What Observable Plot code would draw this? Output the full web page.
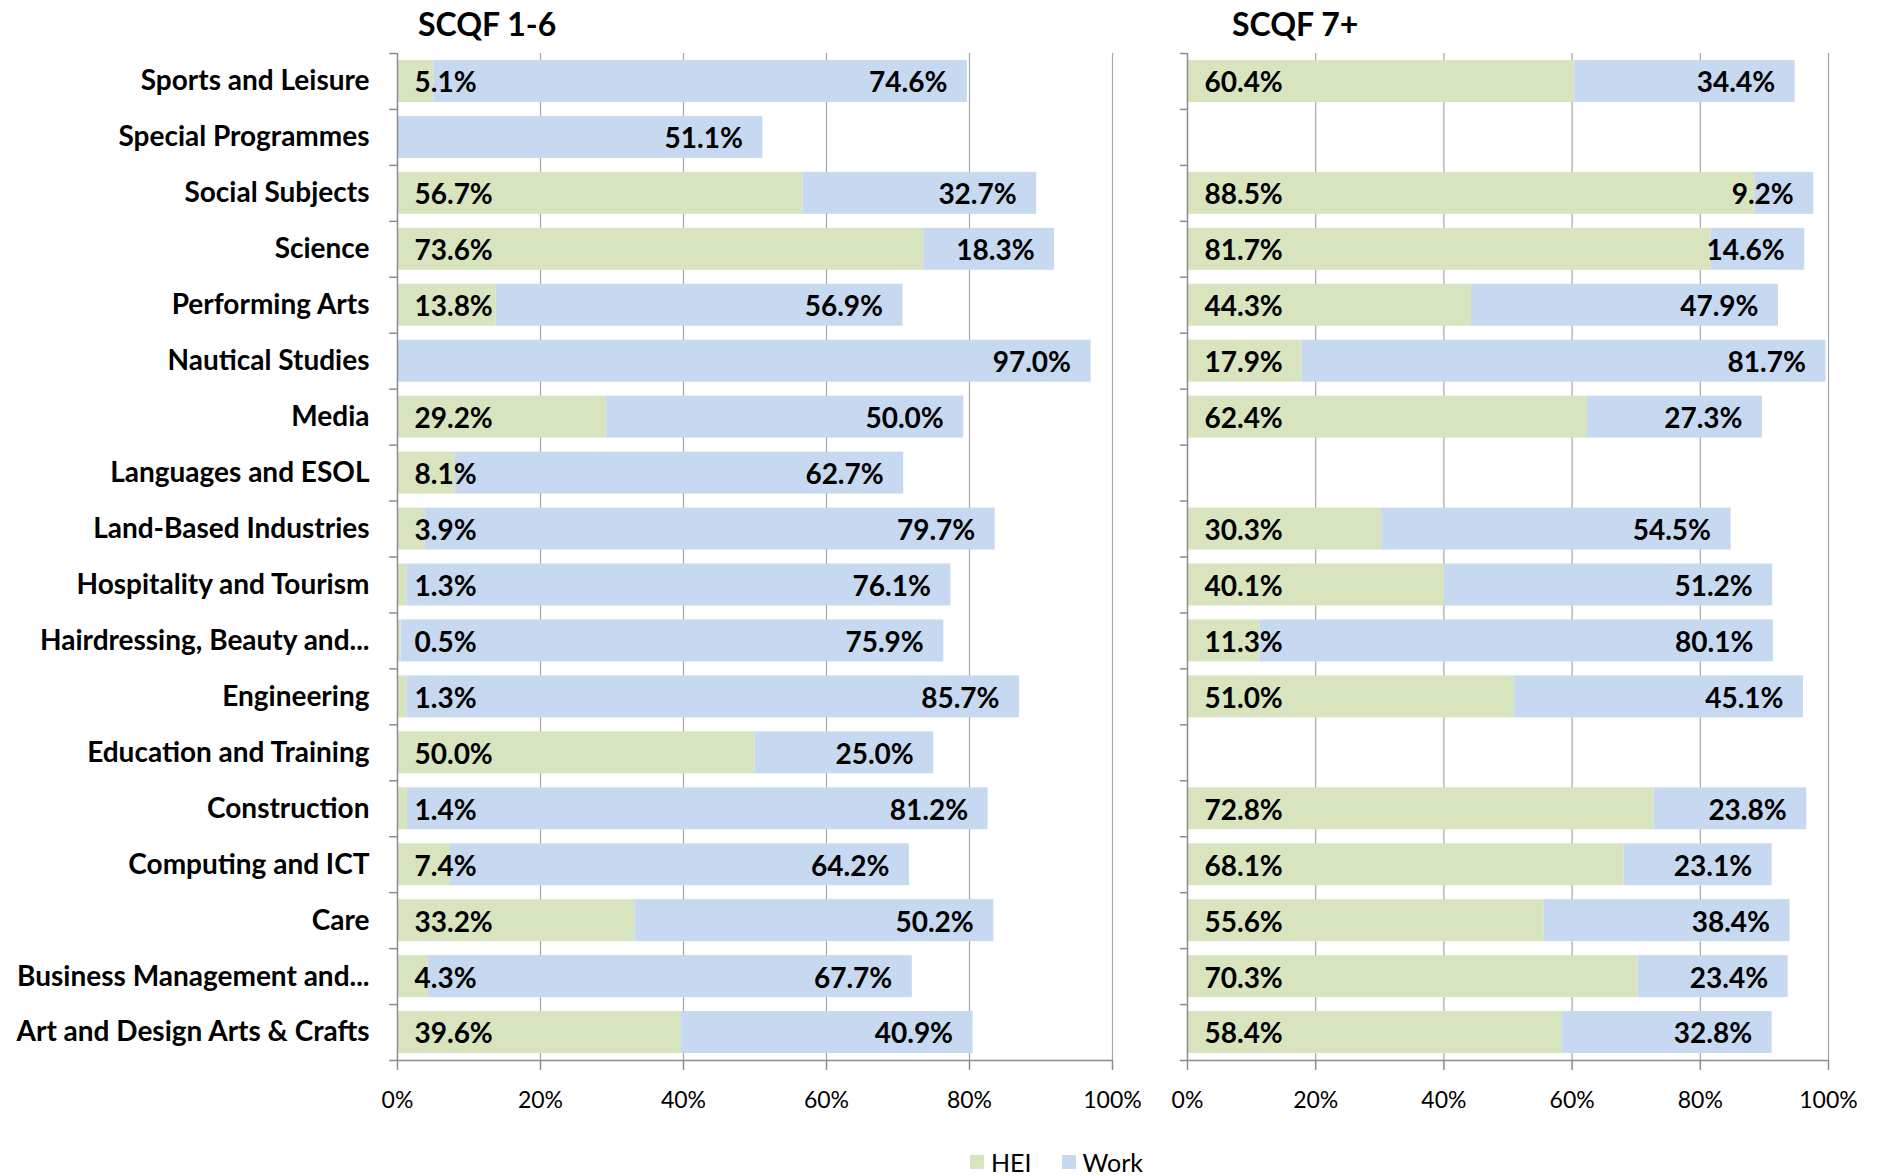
<!DOCTYPE html>
<html>
<head>
<meta charset="utf-8">
<script src="https://cdn.jsdelivr.net/npm/d3@7"></script>
<script src="https://cdn.jsdelivr.net/npm/@observablehq/plot@0.6"></script>
<style>
  html, body { margin: 0; padding: 0; background: #fff; }
  #root { position: relative; width: 1877px; height: 1176px; font-family: Lato, "Open Sans", sans-serif; overflow: hidden; }
  .title { position: absolute; font: bold 32px Lato, sans-serif; color: #000; line-height: 1; }
  #left { position: absolute; left: 0; top: 0; }
  #right { position: absolute; left: 1150px; top: 0; }
  .ylab text { font: bold 28px Lato, sans-serif; fill: #000; }
  .xlab text { font: 23px Lato, sans-serif; fill: #000; }
  #legend { position: absolute; left: 970px; top: 1147px; display: flex; align-items: center; font: 25px Lato, sans-serif; color: #000; }
  .sw { width: 14px; height: 14px; display: inline-block; margin-right: 7px; }
</style>
</head>
<body>
<div id="root">
  <div class="title" style="left:418px; top:8px;">SCQF 1-6</div>
  <div class="title" style="left:1232px; top:8px;">SCQF 7+</div>
  <div id="left"></div>
  <div id="right"></div>
  <div id="legend">
    <span class="sw" style="background:#d7e4bd"></span><span>HEI</span>
    <span class="sw" style="background:#c6d9f0; margin-left:30px"></span><span>Work</span>
  </div>
</div>
<script>
const categories = [
  "Sports and Leisure",
  "Special Programmes",
  "Social Subjects",
  "Science",
  "Performing Arts",
  "Nautical Studies",
  "Media",
  "Languages and ESOL",
  "Land-Based Industries",
  "Hospitality and Tourism",
  "Hairdressing, Beauty and...",
  "Engineering",
  "Education and Training",
  "Construction",
  "Computing and ICT",
  "Care",
  "Business Management and...",
  "Art and Design Arts & Crafts"
];
const hei16  = [5.1, null, 56.7, 73.6, 13.8, null, 29.2, 8.1, 3.9, 1.3, 0.5, 1.3, 50.0, 1.4, 7.4, 33.2, 4.3, 39.6];
const work16 = [74.6, 51.1, 32.7, 18.3, 56.9, 97.0, 50.0, 62.7, 79.7, 76.1, 75.9, 85.7, 25.0, 81.2, 64.2, 50.2, 67.7, 40.9];
const hei7   = [60.4, null, 88.5, 81.7, 44.3, 17.9, 62.4, null, 30.3, 40.1, 11.3, 51.0, null, 72.8, 68.1, 55.6, 70.3, 58.4];
const work7  = [34.4, null, 9.2, 14.6, 47.9, 81.7, 27.3, null, 54.5, 51.2, 80.1, 45.1, null, 23.8, 23.1, 38.4, 23.4, 32.8];
const xTicks = [0, 20, 40, 60, 80, 100];
const seriesNames = ["HEI", "Work"];
const seriesColors = ["#d7e4bd", "#c6d9f0"];

function panel({hei, work, width, marginLeft, marginRight, showLabels}) {
  const height = 1120, marginTop = 53, marginBottom = 60;
  const step = (height - marginTop - marginBottom) / categories.length;
  const rows = categories.map((c, i) => ({cat: c, hei: hei[i], work: work[i]}));
  const long = [];
  rows.forEach(r => {
    if (r.hei != null) long.push({cat: r.cat, series: "HEI", value: r.hei});
    if (r.work != null) long.push({cat: r.cat, series: "Work", value: r.work});
  });
  const fmt = v => v.toFixed(1) + "%";
  return Plot.plot({
    width, height, marginLeft, marginRight, marginTop, marginBottom,
    style: {fontFamily: "Lato, sans-serif", background: "transparent", overflow: "visible"},
    x: {domain: [0, 100], axis: null, label: null},
    y: {domain: categories, paddingInner: 0.25, paddingOuter: 0.125, round: false, axis: null, label: null},
    color: {domain: seriesNames, range: seriesColors},
    marks: [
      Plot.ruleX(xTicks.slice(1), {stroke: "#a6a6a6", strokeWidth: 1.2}),
      Plot.barX(long, Plot.stackX({x: "value", y: "cat", fill: "series", order: seriesNames})),
      Plot.ruleX([0], {stroke: "#8c8c8c", strokeWidth: 1.5}),
      Plot.ruleY(categories, {y: d => d, x1: -1.1, x2: 0, dy: -step / 2, stroke: "#8c8c8c", strokeWidth: 1.5}),
      Plot.ruleY([categories[categories.length - 1]], {y: d => d, x1: -1.1, x2: 100, dy: step / 2, stroke: "#8c8c8c", strokeWidth: 1.5}),
      Plot.axisX({ticks: xTicks, tickFormat: d => d + "%", tickSize: 10, tickPadding: 21, label: null, className: "xlab", fontSize: 23, stroke: "#8c8c8c", strokeWidth: 1.5, fill: "#000"}),
      showLabels ? Plot.axisY({tickSize: 0, tickPadding: 28, label: null, className: "ylab", fontSize: 28, fontWeight: "bold", textOverflow: null, fill: "#000"}) : null,
      Plot.text(rows.filter(r => r.hei != null), {x: 0, y: "cat", text: r => fmt(r.hei), textAnchor: "start", dx: 17, dy: 2, fontSize: 28, fontWeight: "bold", fill: "#000"}),
      Plot.text(rows.filter(r => r.work != null), {x: r => (r.hei || 0) + r.work, y: "cat", text: r => fmt(r.work), textAnchor: "end", dx: -20, dy: 2, fontSize: 28, fontWeight: "bold", fill: "#000"})
    ]
  });
}

document.getElementById("left").append(panel({hei: hei16, work: work16, width: 1150, marginLeft: 397, marginRight: 38, showLabels: true}));
document.getElementById("right").append(panel({hei: hei7, work: work7, width: 727, marginLeft: 37, marginRight: 49, showLabels: false}));
</script>
</body>
</html>
